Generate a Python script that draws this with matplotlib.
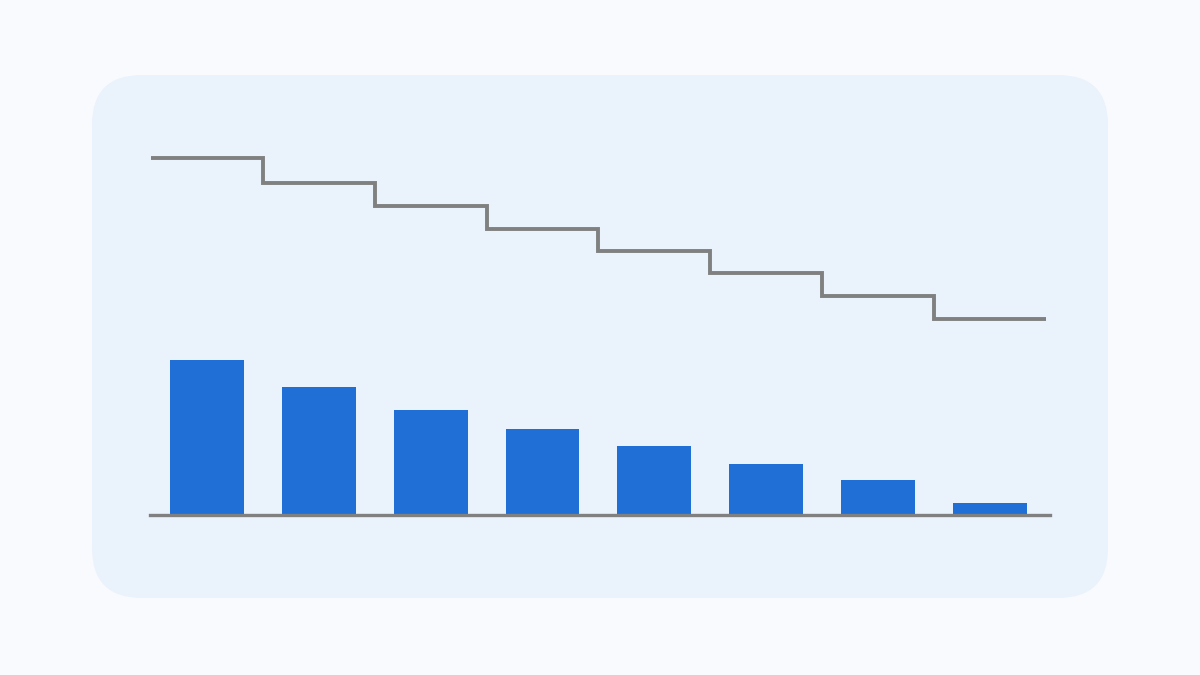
import numpy as np
import matplotlib.pyplot as plt
from matplotlib.patches import FancyBboxPatch

# bar heights and step-line levels (arbitrary units)
bars = [155, 128, 105, 86, 69, 51, 35, 12]
steps = [357, 332, 309, 286, 264, 242, 219, 196]
x = np.arange(len(bars))

page_color = '#f8fafd'
panel_color = '#eaf2fc'
bar_color = '#1f6fd6'
line_color = '#808080'

fig = plt.figure(figsize=(12, 6.75), dpi=100)
fig.patch.set_facecolor(page_color)

# rounded background card
bg = fig.add_axes([0, 0, 1, 1])
bg.set_xlim(0, 1200)
bg.set_ylim(675, 0)
bg.axis('off')
card = FancyBboxPatch((92 + 50, 75 + 50), 1016 - 100, 523 - 100,
                      boxstyle='round,pad=50', facecolor=panel_color,
                      edgecolor='none')
bg.add_patch(card)

ax = fig.add_axes([150 / 1200, 1 - 515 / 675, 900 / 1200, 375 / 675])
ax.set_facecolor('none')
ax.set_xlim(-0.51, 7.54)
ax.set_ylim(0, 375)

ax.bar(x, bars, width=0.66, color=bar_color, zorder=2)
ax.stairs(steps, edges=np.arange(len(steps) + 1) - 0.5, baseline=None,
          color=line_color, lw=2.8, zorder=3)
ax.axhline(0, color=line_color, lw=2.4, zorder=4, clip_on=False)

ax.axis('off')
fig.savefig('out.png', dpi=100, facecolor=page_color)
